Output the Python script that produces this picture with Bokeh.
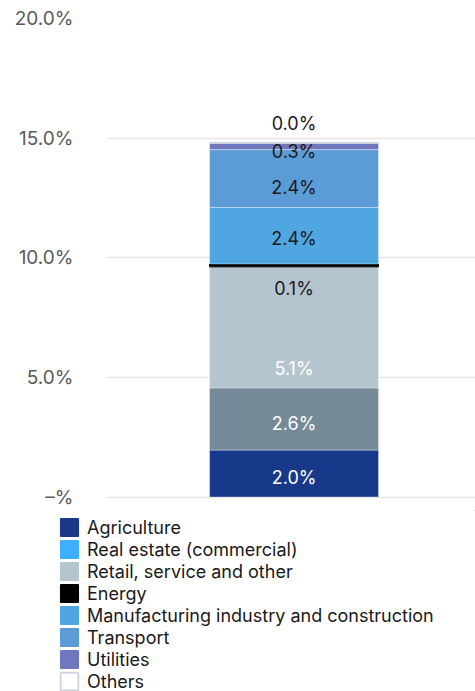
from bokeh.plotting import figure
from bokeh.layouts import column
from bokeh.models import Range1d, FixedTicker, Legend, LegendItem, ColumnDataSource
from bokeh.embed import file_html
from bokeh.resources import INLINE
from bokeh.core.properties import value

# ---- data ----
sectors = ["Agriculture", "Real estate (commercial)", "Retail, service and other", "Energy",
           "Manufacturing industry and construction", "Transport", "Utilities", "Others"]
shares = [1.96, 2.60, 5.06, 0.12, 2.36, 2.42, 0.27, 0.03]
bar_colors = ["#18398a", "#758a97", "#b5c5cf", "#000000", "#4fa6e0", "#5b9bd6", "#7177bd", "#ffffff"]
legend_colors = ["#18398a", "#3eafff", "#b5c5cf", "#000000", "#4fa6e0", "#5b9bd6", "#7177bd", "#ffffff"]
label_colors = ["#ffffff", "#ffffff", "#ffffff", "#1a1a1a", "#1a1a1a", "#1a1a1a", "#1a1a1a", "#1a1a1a"]
y_ticks = [0, 5, 10, 15, 20]
y_tick_labels = ["\u2013%", "5.0%", "10.0%", "15.0%", "20.0%"]

# label nudges (screen px) to avoid overlaps, as in the original
label_nudge = [4, 4, 41, 23, 3, 9, 5, -19]

bottoms, tops = [], []
acc = 0.0
for v in shares:
    bottoms.append(acc)
    acc += v
    tops.append(acc)
mids = [(b + t) / 2 for b, t in zip(bottoms, tops)]
labels = [f"{v:.1f}%" for v in shares]
line_colors = ["#ffffff"] * len(shares)
line_colors[3] = "#000000"
line_colors[7] = "#d0d8de"
line_alphas = [0.35] * len(shares)
line_alphas[3] = 1.0
line_alphas[7] = 1.0

src = ColumnDataSource(dict(x=[0] * len(shares), bottom=bottoms, top=tops, fill=bar_colors,
                            lc=line_colors, la=line_alphas, mid=mids, label=labels,
                            tc=label_colors, dy=label_nudge))

FONT = "Inter"

p = figure(width=475, height=510, output_backend="svg", toolbar_location=None,
           x_range=Range1d(-1.11, 1.074), y_range=Range1d(-0.564, 20),
           x_axis_location=None, min_border_left=106, min_border_right=0,
           min_border_top=18, min_border_bottom=0)
p.frame_align = False
p.outline_line_color = None
p.xgrid.grid_line_color = None
p.ygrid.grid_line_color = "#e6e6e6"
p.ygrid.grid_line_width = 1.5

ax = p.yaxis[0]
ax.ticker = FixedTicker(ticks=y_ticks)
ax.major_label_overrides = {t: l for t, l in zip(y_ticks, y_tick_labels)}
ax.axis_line_color = None
ax.major_tick_line_color = None
ax.minor_tick_line_color = None
ax.major_tick_out = 0
ax.major_tick_in = 0
ax.major_label_standoff = 33
ax.major_label_text_font = FONT
ax.major_label_text_font_size = "19px"
ax.major_label_text_color = "#5a5a5a"

p.vbar(x="x", bottom="bottom", top="top", width=1, source=src,
       fill_color="fill", line_color="lc", line_alpha="la", line_width=1)

p.text(x="x", y="mid", text="label", source=src, text_color="tc", y_offset="dy",
       text_align="center", text_baseline="middle",
       text_font=value(FONT), text_font_size="18px")

# ---- legend panel ----
q = figure(width=475, height=181, output_backend="svg", toolbar_location=None,
           x_range=Range1d(0, 1), y_range=Range1d(0, 1),
           x_axis_location=None, y_axis_location=None,
           min_border_left=0, min_border_right=0, min_border_top=0, min_border_bottom=0)
q.frame_align = False
q.outline_line_color = None
q.grid.grid_line_color = None

items = []
for name, c in zip(sectors, legend_colors):
    lc = "#d0d8de" if c == "#ffffff" else c
    # legend-only swatch glyph, kept outside the visible range
    r = q.vbar(x=[5], top=[5], bottom=[4], width=1, fill_color=c, line_color=lc,
               line_width=2 if c == "#ffffff" else 1.5)
    items.append(LegendItem(label=name, renderers=[r]))

legend = Legend(items=items, location=(58, -1), padding=0, margin=0,
                border_line_color=None, background_fill_alpha=0,
                glyph_width=22, glyph_height=22, label_height=22, spacing=0,
                label_standoff=7, label_text_font=FONT, label_text_font_size="18px",
                label_text_color="#1a1a1a", label_text_baseline="middle")
q.add_layout(legend)

layout = column(p, q, spacing=0)
open("out.html", "w").write(file_html(layout, INLINE))
